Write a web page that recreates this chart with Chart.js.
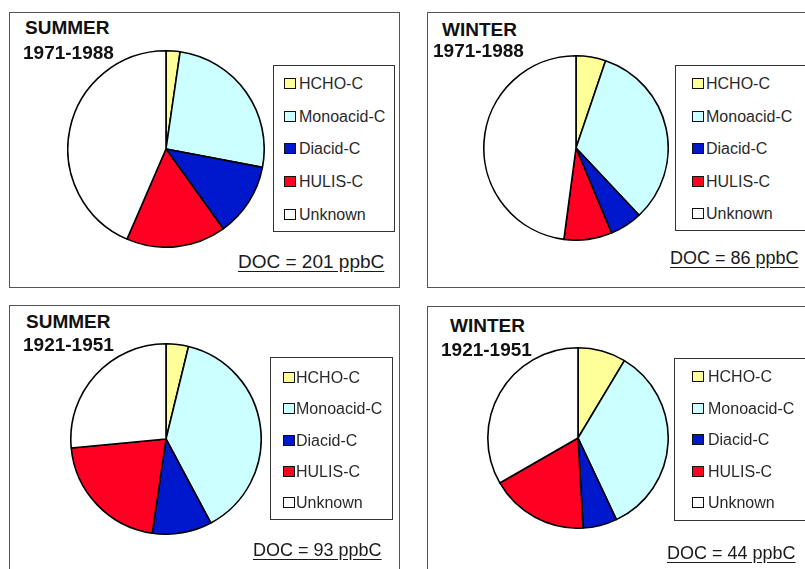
<!DOCTYPE html>
<html>
<head>
<meta charset="utf-8">
<script src="https://cdn.jsdelivr.net/npm/chart.js@4.4.1/dist/chart.umd.min.js"></script>
<style>
  body { margin: 0; background: #fff; width: 805px; height: 569px; overflow: hidden; position: relative;
         font-family: "Liberation Sans", Arial, sans-serif; color: #111; }
  .box { position: absolute; border: 1.5px solid #555; box-sizing: border-box; }
  .title { position: absolute; font-weight: bold; font-size: 19px; line-height: 22px; white-space: nowrap; }
  .legend { position: absolute; border: 1.2px solid #333; box-sizing: border-box; background: #fff; }
  .row { position: absolute; height: 20px; line-height: 20px; font-size: 16px; white-space: nowrap; color: #2a2a2a; }
  .sw { position: absolute; width: 10px; height: 9px; border: 1.5px solid #111; top: 4px; }
  .doc { position: absolute; line-height: 22px; text-decoration: underline; text-underline-offset: 3px; white-space: nowrap; color: #1a1a1a; }
  canvas { position: absolute; }
</style>
</head>
<body>
<script>
// categories and slice colours
const categories = ['HCHO-C', 'Monoacid-C', 'Diacid-C', 'HULIS-C', 'Unknown'];
const sliceColors = ['#FFFF99', '#CCFFFF', '#0018CC', '#FF0022', '#FFFFFF'];

// percent of DOC
const summer1971 = [2.3, 25.7, 12.1, 16.4, 43.5];
const winter1971 = [5.2, 32.8, 5.7, 8.4, 47.9];
const summer1921 = [3.8, 38.4, 10.1, 21.2, 26.5];
const winter1921 = [8.6, 34.4, 6.1, 17.6, 33.3];

const seasons = ['SUMMER', 'WINTER', 'SUMMER', 'WINTER'];
const periods = ['1971-1988', '1971-1988', '1921-1951', '1921-1951'];
const docValues = [201, 86, 93, 44];

// where each panel sits on the page
const panels = [
    {values: summer1971, box: [9, 12, 391, 276], pie: [166, 149, 97],
     legend: [273, 65, 122, 167], rowStart: 18, rowGap: 32.7, swX: 10, txX: 25,
     t1: [25, 28], t2: [23, 53], doc: [238, 262], docSize: 19},
    {values: winter1971, box: [427, 12, 400, 276], pie: [576, 148, 91],
     legend: [675, 65, 200, 166], rowStart: 18, rowGap: 32.5, swX: 16, txX: 30,
     t1: [442, 30], t2: [433, 51], doc: [670, 258], docSize: 18},
    {values: summer1921, box: [9, 305, 391, 300], pie: [166, 439, 94],
     legend: [270, 357, 123, 163], rowStart: 20, rowGap: 31.3, swX: 12, txX: 25,
     t1: [26, 322], t2: [23, 345], doc: [253, 550], docSize: 18},
    {values: winter1921, box: [427, 306, 400, 300], pie: [578, 438, 89],
     legend: [674, 358, 200, 163], rowStart: 18, rowGap: 31.5, swX: 17, txX: 33,
     t1: [450, 326], t2: [441, 350], doc: [667, 553], docSize: 18}
];

function el(cls, css, text) {
    const d = document.createElement('div');
    d.className = cls;
    Object.assign(d.style, css);
    if (text) d.textContent = text;
    document.body.appendChild(d);
    return d;
}

panels.forEach((p, i) => {
    el('box', {left: p.box[0] + 'px', top: p.box[1] + 'px', width: p.box[2] + 'px', height: p.box[3] + 'px'});

    //the pie itself
    const [cx, cy, r] = p.pie;
    const size = 2 * r + 4;
    const canvas = document.createElement('canvas');
    canvas.width = size;
    canvas.height = size;
    canvas.style.left = (cx - size / 2) + 'px';
    canvas.style.top = (cy - size / 2) + 'px';
    document.body.appendChild(canvas);
    new Chart(canvas, {
        type: 'pie',
        data: {
            labels: categories,
            datasets: [{
                data: p.values,
                backgroundColor: sliceColors,
                borderColor: '#000',
                borderWidth: 1.6
            }]
        },
        options: {
            responsive: false,
            animation: false,
            layout: {padding: 0},
            plugins: {legend: {display: false}, tooltip: {enabled: false}}
        }
    });

    el('title', {left: p.t1[0] + 'px', top: (p.t1[1] - 11) + 'px'}, seasons[i]);
    el('title', {left: p.t2[0] + 'px', top: (p.t2[1] - 11) + 'px'}, periods[i]);

    const lg = el('legend', {left: p.legend[0] + 'px', top: p.legend[1] + 'px', width: p.legend[2] + 'px', height: p.legend[3] + 'px'});
    categories.forEach((c, k) => {
        const row = document.createElement('div');
        row.className = 'row';
        row.style.left = '0px';
        row.style.top = (p.rowStart + k * p.rowGap - 10) + 'px';
        const sw = document.createElement('div');
        sw.className = 'sw';
        sw.style.left = p.swX + 'px';
        sw.style.background = sliceColors[k];
        row.appendChild(sw);
        const tx = document.createElement('span');
        tx.style.position = 'absolute';
        tx.style.left = p.txX + 'px';
        tx.textContent = c;
        row.appendChild(tx);
        lg.appendChild(row);
    });

    el('doc', {left: p.doc[0] + 'px', top: (p.doc[1] - 11) + 'px', fontSize: p.docSize + 'px'},
       'DOC = ' + docValues[i] + ' ppbC');
});
</script>
</body>
</html>
